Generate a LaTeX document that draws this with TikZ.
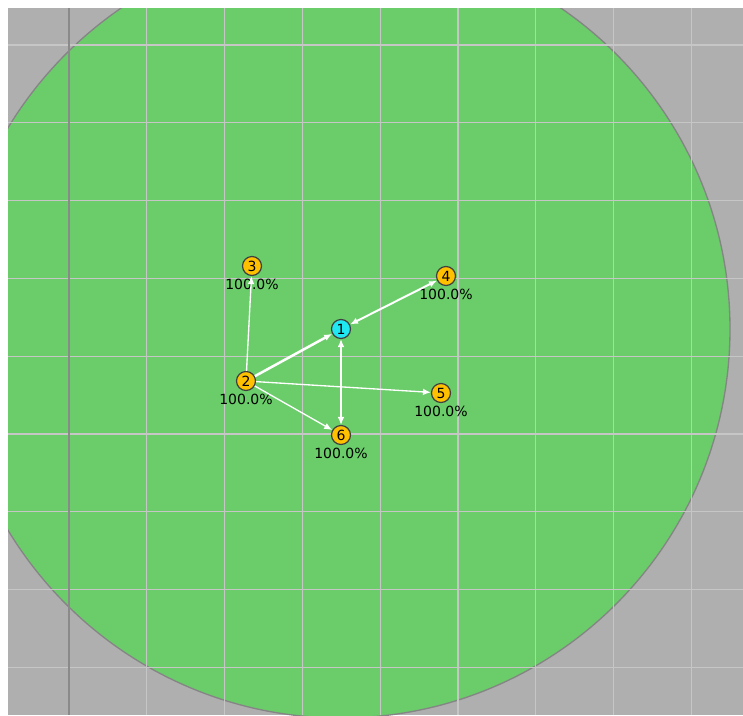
\documentclass[tikz,border=0pt]{standalone}
\usepackage{fontspec}
\setmainfont{DejaVu Sans}
\usetikzlibrary{arrows.meta,positioning}
\definecolor{bggray}{HTML}{AFAFAF}
\definecolor{gridgray}{HTML}{C6C6C6}
\definecolor{axisgray}{HTML}{8A8A8A}
\definecolor{zonegreen}{HTML}{6ACD6A}
\definecolor{rimgray}{HTML}{858585}
\definecolor{siteyellow}{HTML}{FFC000}
\definecolor{hostcyan}{HTML}{1FE8F2}

\begin{document}
\begin{tikzpicture}[x=0.75pt,y=-0.75pt,>={Latex[length=6pt,width=5pt]},
  site/.style={draw=black!75,line width=0.9pt,circle,fill=siteyellow,minimum size=14.25pt,inner sep=0pt,font=\fontsize{10.5}{12}\selectfont},
  pct/.style={inner sep=0pt,font=\fontsize{10.5}{12}\selectfont},
  link/.style={draw=white,line width=1pt}]
\useasboundingbox (0,0) rectangle (743,715);
\fill[bggray] (8,8) rectangle (743,715);
\begin{scope}
\clip (8,8) rectangle (743,715);
\fill[zonegreen] (341,329) circle[radius=389];
\draw[rimgray,line width=1pt] (341,329) circle[radius=389];
\end{scope}
\foreach \k in {0,...,8} {
  \draw[gridgray,line width=1pt] ({69+77.8*\k},8) -- ({69+77.8*\k},715);
  \draw[gridgray,line width=1pt] (8,{45+77.8*\k}) -- (743,{45+77.8*\k});
}
\draw[axisgray,line width=1pt] (69,8) -- (69,715);

\node (n1) [site,fill=hostcyan] at (341,329) {1};
\node (n2) [site] at (246,381) {2};
\node (n3) [site] at (252,266) {3};
\node (n4) [site] at (446,276) {4};
\node (n5) [site] at (441,393) {5};
\node (n6) [site] at (341,435) {6};

\node (p2) [pct,below=2pt of n2] {100.0\%};
\node (p3) [pct,below=2pt of n3] {100.0\%};
\node (p4) [pct,below=2pt of n4] {100.0\%};
\node (p5) [pct,below=2pt of n5] {100.0\%};
\node (p6) [pct,below=2pt of n6] {100.0\%};

\draw[link,->,line width=1.9pt] (n2) -- (n1);
\draw[link,->] (n2) -- (n3);
\draw[link,->] (n2) -- (n5);
\draw[link,->] (n2) -- (n6);
\draw[link,<->,line width=1.5pt] (n1) -- (n4);
\draw[link,<->] (n1) -- (n6);
\end{tikzpicture}
\end{document}
